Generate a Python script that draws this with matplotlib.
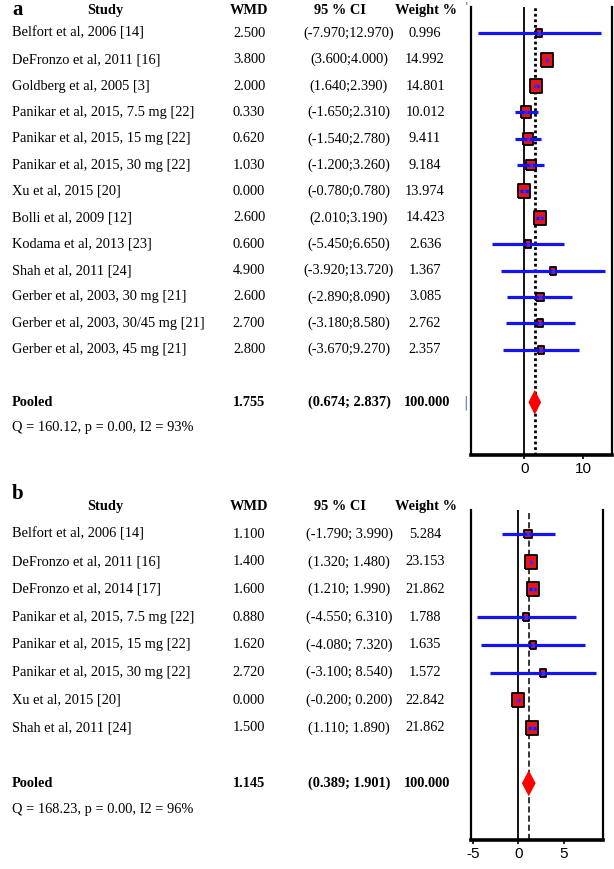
import matplotlib
matplotlib.use("Agg")
import matplotlib.pyplot as plt
import numpy as np

# ---------------- data ----------------
studies_a = ["Belfort et al, 2006 [14]", "DeFronzo et al, 2011 [16]", "Goldberg et al, 2005 [3]",
             "Panikar et al, 2015, 7.5 mg [22]", "Panikar et al, 2015, 15 mg [22]",
             "Panikar et al, 2015, 30 mg [22]", "Xu et al, 2015 [20]", "Bolli et al, 2009 [12]",
             "Kodama et al, 2013 [23]", "Shah et al, 2011 [24]", "Gerber et al, 2003, 30 mg [21]",
             "Gerber et al, 2003, 30/45 mg [21]", "Gerber et al, 2003, 45 mg [21]"]
wmd_a = [2.500, 3.800, 2.000, 0.330, 0.620, 1.030, 0.000, 2.600, 0.600, 4.900, 2.600, 2.700, 2.800]
lo_a = [-7.970, 3.600, 1.640, -1.650, -1.540, -1.200, -0.780, 2.010, -5.450, -3.920, -2.890, -3.180, -3.670]
hi_a = [12.970, 4.000, 2.390, 2.310, 2.780, 3.260, 0.780, 3.190, 6.650, 13.720, 8.090, 8.580, 9.270]
weight_a = [0.996, 14.992, 14.801, 10.012, 9.411, 9.184, 13.974, 14.423, 2.636, 1.367, 3.085, 2.762, 2.357]
pooled_a = [1.755, 0.674, 2.837]
het_a = "Q = 160.12, p = 0.00, I2 = 93%"
ticks_a = [0, 10]

studies_b = ["Belfort et al, 2006 [14]", "DeFronzo et al, 2011 [16]", "DeFronzo et al, 2014 [17]",
             "Panikar et al, 2015, 7.5 mg [22]", "Panikar et al, 2015, 15 mg [22]",
             "Panikar et al, 2015, 30 mg [22]", "Xu et al, 2015 [20]", "Shah et al, 2011 [24]"]
wmd_b = [1.100, 1.400, 1.600, 0.880, 1.620, 2.720, 0.000, 1.500]
lo_b = [-1.790, 1.320, 1.210, -4.550, -4.080, -3.100, -0.200, 1.110]
hi_b = [3.990, 1.480, 1.990, 6.310, 7.320, 8.540, 0.200, 1.890]
weight_b = [5.284, 23.153, 21.862, 1.788, 1.635, 1.572, 22.842, 21.862]
pooled_b = [1.145, 0.389, 1.901]
het_b = "Q = 168.23, p = 0.00, I2 = 96%"
ticks_b = [-5, 0, 5]

headers = ["Study", "WMD", "95 % CI", "Weight %"]

# ---------------- layout ----------------
W, H = 614, 869
fig = plt.figure(figsize=(W / 100, H / 100), dpi=100)
SERIF = ["Liberation Serif", "DejaVu Serif"]
FS = 10.4
RECT = [(-0.85, -1), (0.85, -1), (0.85, 1), (-0.85, 1), (-0.85, -1)]


def fy(px):
    return 1 - px / H


def panel(label, label_y, top_px, bot_px, left_px, right_px, xlim, ylim,
          studies, wmd, lo, hi, weight, pooled, het, ticks, pooled_row,
          pooled_ls, pooled_lw, header_row, ci_sep, blue_bar=False):
    ax = fig.add_axes([left_px / W, fy(bot_px), (right_px - left_px) / W, (bot_px - top_px) / H])
    tax = fig.add_axes([0, fy(bot_px), 1, (bot_px - top_px) / H], sharey=ax, zorder=-1)
    tax.set_xlim(0, W)
    tax.axis("off")
    ax.set_xlim(*xlim)
    ax.set_ylim(*ylim)

    rows = np.arange(1, len(studies) + 1)
    wmax = max(weight)
    ax.axvline(0, color="black", lw=1.3, zorder=1)
    ax.axvline(pooled[0], color="black", lw=pooled_lw, ls=pooled_ls, zorder=1)
    for r, m, w in zip(rows, wmd, weight):
        side = 7 + 6.5 * w / wmax
        ax.plot(m, r, marker=RECT, ms=side * 0.72, mfc="#e8141a", mec="black", mew=1.3,
                zorder=3)
    ax.hlines(rows, lo, hi, color="#1414f0", lw=2.3, zorder=4)
    ax.plot(wmd, rows, ls="none", marker="o", ms=1.6, color="#3030ff", zorder=5)
    dx = [pooled[1], pooled[0], pooled[2], pooled[0]]
    dy = [pooled_row, pooled_row - 0.47, pooled_row, pooled_row + 0.47]
    ax.fill(dx, dy, color="#ff0000", zorder=4, lw=0)

    ax.spines["top"].set_visible(False)
    ax.spines["left"].set_linewidth(1.6)
    ax.spines["right"].set_linewidth(1.6)
    ax.spines["bottom"].set_linewidth(2.6)
    ax.set_yticks([])
    ax.set_xticks(ticks)
    ax.set_xticklabels([str(t) for t in ticks], family=["Liberation Sans Narrow", "Liberation Sans"],
                       fontsize=11)
    ax.tick_params(axis="x", direction="out", length=3, width=1.2, pad=2)

    hx = [105, 249, 340, 426]
    for x, h in zip(hx, headers):
        tax.text(x, header_row, h, ha="center", va="center", family=SERIF, fontsize=FS,
                 fontweight="bold")
    for r, s, m, l, h_, w in zip(rows, studies, wmd, lo, hi, weight):
        tax.text(12, r, s, ha="left", va="center", family=SERIF, fontsize=FS)
        tax.text(249, r, f"{m:.3f}", ha="center", va="center", family=SERIF, fontsize=FS)
        tax.text(349, r, f"({l:.3f}{ci_sep}{h_:.3f})", ha="center", va="center", family=SERIF,
                 fontsize=FS)
        tax.text(425, r, f"{w:.3f}", ha="center", va="center", family=SERIF, fontsize=FS)
    tax.text(12, pooled_row, "Pooled", ha="left", va="center", family=SERIF, fontsize=FS,
             fontweight="bold")
    tax.text(249, pooled_row, f"{pooled[0]:.3f}", ha="center", va="center", family=SERIF,
             fontsize=FS, fontweight="bold")
    tax.text(349, pooled_row, f"({pooled[1]:.3f}; {pooled[2]:.3f})", ha="center", va="center",
             family=SERIF, fontsize=FS, fontweight="bold")
    tax.text(427, pooled_row, "100.000", ha="center", va="center", family=SERIF, fontsize=FS,
             fontweight="bold")
    tax.text(12, pooled_row + 0.95, het, ha="left", va="center", family=SERIF, fontsize=FS)
    if blue_bar:
        tax.text(466, pooled_row, "|", ha="center", va="center", color="#4a7fc0", fontsize=10)
        tax.text(467, header_row - 0.1, "'", ha="center", va="center", color="#4a7fc0", fontsize=9)
        tax.text(476, header_row - 0.1, ".", ha="center", va="center", color="black", fontsize=8)
    fig.text(12 / W, fy(label_y), label, ha="left", va="center", family=SERIF, fontsize=15,
             fontweight="bold")
    return ax


panel("a", 10, 7, 455, 471, 612, (-9.1, 14.9), (17.0, 0.0),
      studies_a, wmd_a, lo_a, hi_a, weight_a, pooled_a, het_a, ticks_a, 15,
      (0, (1, 1)), 2.0, 0.12, ";", blue_bar=True)
panel("b", 494, 510, 840, 471, 603, (-5.2, 9.3), (12.05, 0.13),
      studies_b, wmd_b, lo_b, hi_b, weight_b, pooled_b, het_b, ticks_b, 10,
      (0, (4, 2)), 1.1, 0.0, "; ")

fig.savefig("out.png", dpi=100)
